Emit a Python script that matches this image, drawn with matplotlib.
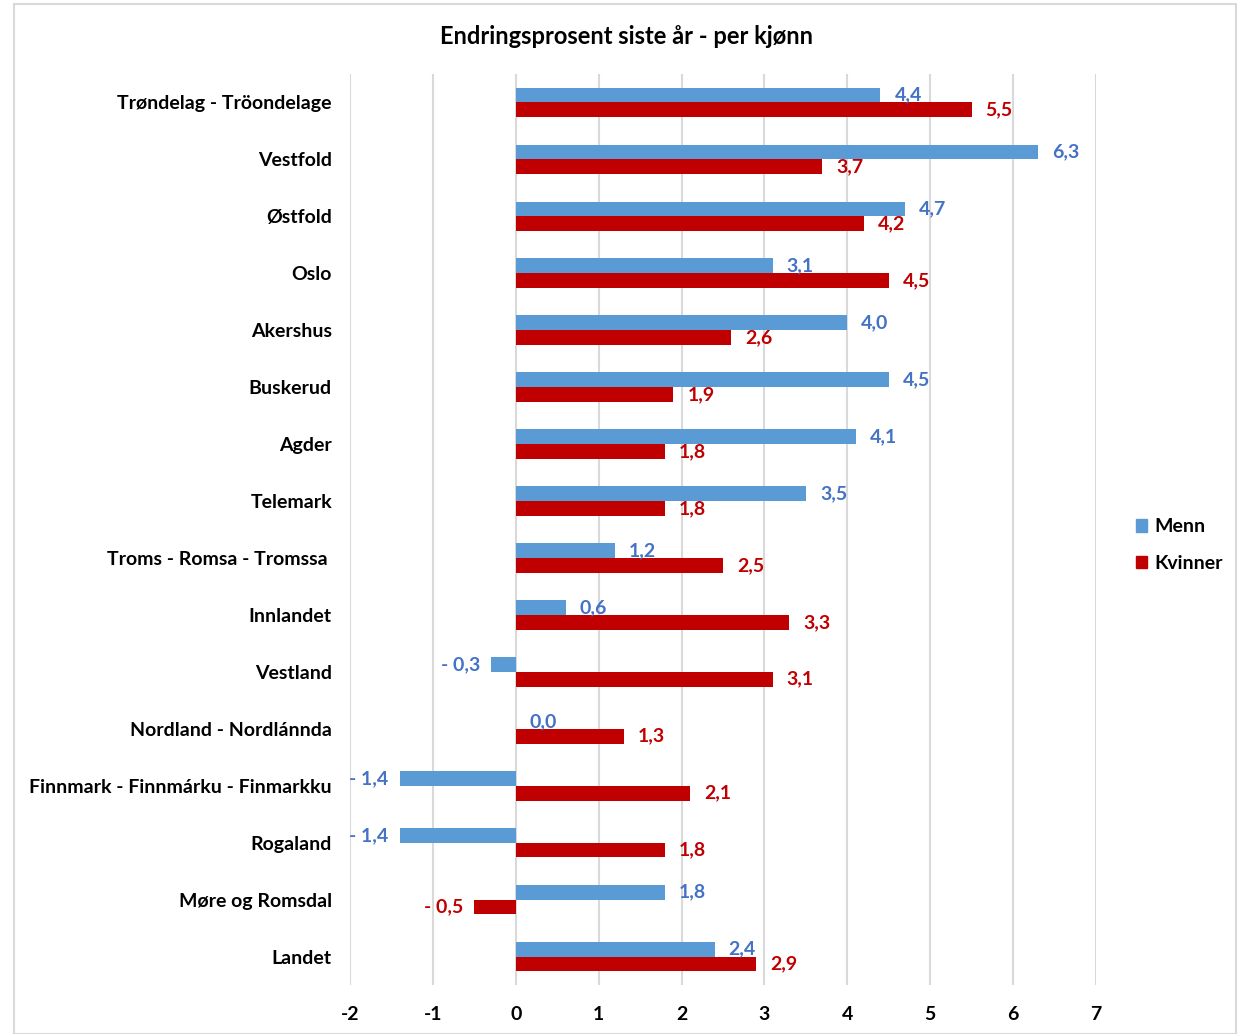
import matplotlib
matplotlib.use("Agg")
import matplotlib.pyplot as plt
from matplotlib.patches import Rectangle, Patch
import numpy as np

plt.rcParams['font.family'] = ['Lato', 'DejaVu Sans']
plt.rcParams['font.weight'] = 'bold'

categories = ["Trøndelag - Tröondelage", "Vestfold", "Østfold", "Oslo", "Akershus",
              "Buskerud", "Agder", "Telemark", "Troms - Romsa - Tromssa ", "Innlandet",
              "Vestland", "Nordland - Nordlánnda", "Finnmark - Finnmárku - Finmarkku",
              "Rogaland", "Møre og Romsdal", "Landet"]
menn = [4.4, 6.3, 4.7, 3.1, 4.0, 4.5, 4.1, 3.5, 1.2, 0.6, -0.3, 0.0, -1.4, -1.4, 1.8, 2.4]
kvinner = [5.5, 3.7, 4.2, 4.5, 2.6, 1.9, 1.8, 1.8, 2.5, 3.3, 3.1, 1.3, 2.1, 1.8, -0.5, 2.9]
xticks = [-2, -1, 0, 1, 2, 3, 4, 5, 6, 7]

blue = "#5B9BD5"
blue_txt = "#4472C4"
red = "#C00000"

fig = plt.figure(figsize=(12.46, 10.34), dpi=100)
ax = fig.add_axes([350/1246, 1-985/1034, (1096-350)/1246, (985-74)/1034])

y = np.arange(len(categories))
h = 0.26
ax.barh(y - h/2, menn, height=h, color=blue, zorder=3)
ax.barh(y + h/2, kvinner, height=h, color=red, zorder=3)

def fmt(v):
    s = f"{abs(v):.1f}".replace(".", ",")
    return "- " + s if v < 0 else s

for yi, m, k in zip(y, menn, kvinner):
    for val, off, col in ((m, -h/2, blue_txt), (k, h/2, red)):
        if val < 0:
            ax.annotate(fmt(val), (val, yi + off), xytext=(-11, 0), textcoords='offset pixels',
                        ha='right', va='center', color=col, fontsize=14, zorder=4)
        else:
            ax.annotate(fmt(val), (val, yi + off), xytext=(14, 0), textcoords='offset pixels',
                        ha='left', va='center', color=col, fontsize=14, zorder=4)

ax.set_ylim(len(categories) - 0.5, -0.5)
ax.set_xlim(-2, 7)
ax.set_xticks(xticks)
ax.set_xticklabels([str(t) for t in xticks], fontsize=14)
ax.set_yticks(y)
ax.set_yticklabels(categories, fontsize=14)
ax.tick_params(axis='both', length=0)
ax.tick_params(axis='x', pad=15)
ax.tick_params(axis='y', pad=13)
ax.grid(axis='x', color="#D9D9D9", lw=1.5, zorder=0)
for s in ax.spines.values():
    s.set_visible(False)

fig.text(627/1246, 1-36/1034, "Endringsprosent siste år - per kjønn", ha='center', va='center',
         fontsize=17, fontweight='bold')

handles = [Patch(color=blue, label="Menn"), Patch(color=red, label="Kvinner")]
fig.legend(handles=handles, loc='center left', bbox_to_anchor=(1118/1246, 1-545/1034),
           frameon=False, fontsize=14, handlelength=0.6, handleheight=0.6,
           handletextpad=0.35, labelspacing=1.0)

fig.add_artist(Rectangle((14/1246, 0), (1236-14)/1246, 1-4/1034, transform=fig.transFigure,
                         fill=False, edgecolor="#D9D9D9", lw=1.5))

fig.savefig("out.png", dpi=100)
